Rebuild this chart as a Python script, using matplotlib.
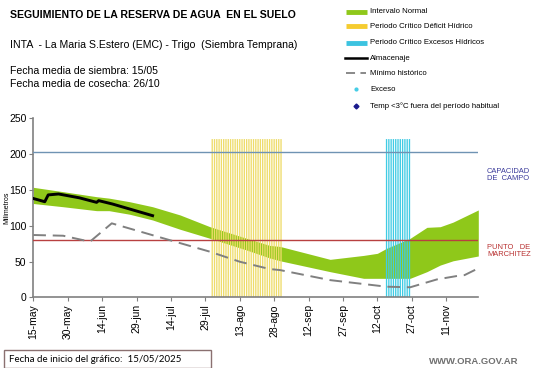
import pandas as pd
import matplotlib.pyplot as plt
from matplotlib.lines import Line2D
from matplotlib.patches import Rectangle

plt.rcParams["font.family"] = ["Liberation Sans", "DejaVu Sans"]

start = pd.Timestamp("2025-05-15")

# intervalo normal (green band): day offset, upper, lower
band_days = [0, 13, 27.6, 33, 42, 52, 64, 77, 93, 103, 107.6, 129.4, 144, 150, 154, 164.3, 171.6, 177.4, 183, 194]
band_upper = [153.6, 147.5, 140.5, 138.5, 133.5, 126.5, 115, 98.6, 82.4, 72.5, 71, 53, 58.5, 61.4, 68.4, 82.4, 97.7, 98.6, 105, 122]
band_lower = [131, 126.5, 121, 121, 116, 108, 95, 82.4, 66, 55, 51, 35.8, 26.5, 26.5, 26.5, 26.5, 35.8, 45, 51, 57.7]

# almacenaje (black line)
alm_days = [0, 5, 6.5, 11, 20, 27.6, 28.5, 34.5, 42, 52]
alm_vals = [138, 133.5, 143, 144.3, 139, 132.6, 135, 130.3, 123.3, 114]

# minimo historico (dashed)
min_days = [0, 13, 24.7, 34.2, 56.7, 77, 90, 103, 107.6, 129.4, 154, 164.3, 176, 184.6, 188, 194]
min_vals = [87, 86, 77.7, 103.3, 82.4, 63.7, 49.7, 39.5, 38, 24, 14.8, 14, 25, 29.7, 31, 40.5]

capacidad_campo = 202.5
punto_marchitez = 80.5
stripe_top = 221

deficit_days = list(range(78, 109))
exceso_days = list(range(154, 165))

tick_days = list(range(0, 181, 15))
tick_labels = ["15-may", "30-may", "14-jun", "29-jun", "14-jul", "29-jul", "13-ago",
               "28-ago", "12-sep", "27-sep", "12-oct", "27-oct", "11-nov"]


def to_dates(days):
    return start + pd.to_timedelta(days, unit="D")


fig = plt.figure(figsize=(5.41, 3.68), dpi=100)
ax = fig.add_axes([33.3 / 541, 1 - 297.3 / 368, 445 / 541, 179 / 368])

ax.fill_between(to_dates(band_days), band_lower, band_upper, color="#8fc81a", lw=0, zorder=1)
ax.vlines(to_dates(deficit_days), 0, stripe_top, color="#eedc6a", lw=0.95, zorder=2, snap=False)
ax.vlines(to_dates(exceso_days), 0, stripe_top, color="#40cbe4", lw=0.95, zorder=2, snap=False)
ax.axhline(capacidad_campo, color="#6f93b3", lw=1, zorder=3)
ax.axhline(punto_marchitez, color="#b84040", lw=1, zorder=3)
ax.plot(to_dates(min_days), min_vals, color="#808080", lw=1.4, dashes=(6.5, 3.5), zorder=4)
ax.plot(to_dates(alm_days), alm_vals, color="black", lw=2.1, zorder=5)

ax.set_xlim(start, start + pd.Timedelta(days=194))
ax.set_ylim(0, 250)
ax.set_yticks([0, 50, 100, 150, 200, 250])
ax.set_xticks(to_dates(tick_days))
ax.set_xticklabels(tick_labels, rotation=90)
ax.tick_params(labelsize=7.5, color="#808080", length=3, pad=2)
for s in ["top", "right"]:
    ax.spines[s].set_visible(False)
for s in ["left", "bottom"]:
    ax.spines[s].set_color("#808080")
    ax.spines[s].set_linewidth(1.2)
fig.text(7 / 541, 1 - 208 / 368, "Milimetros", rotation=90, fontsize=5, ha="center", va="center")

# header texts
fig.text(10 / 541, 1 - 15 / 368, "SEGUIMIENTO DE LA RESERVA DE AGUA  EN EL SUELO",
         fontsize=7.6, fontweight="bold", va="center")
fig.text(10 / 541, 1 - 45 / 368, "INTA  - La Maria S.Estero (EMC) - Trigo  (Siembra Temprana)",
         fontsize=7.6, va="center")
fig.text(10 / 541, 1 - 71 / 368, "Fecha media de siembra: 15/05", fontsize=7.6, va="center")
fig.text(10 / 541, 1 - 84 / 368, "Fecha media de cosecha: 26/10", fontsize=7.6, va="center")

# legend
rows_y = [11.7, 26, 42.7, 58.3, 73.3, 89.3, 106]
leg = [
    ("patch", "#8fc81a", "Intervalo Normal"),
    ("patch", "#f5cc30", "Periodo Crítico Déficit Hídrico"),
    ("patch", "#3cc3e0", "Periodo Crítico Excesos Hídricos"),
    ("line", "black", "Almacenaje"),
    ("dash", "#808080", "Mínimo histórico"),
    ("dot", "#45cde6", "Exceso"),
    ("diamond", "#1a1a8c", "Temp <3°C fuera del período habitual"),
]
for (kind, col, lab), yy in zip(leg, rows_y):
    y = 1 - yy / 368
    if kind == "patch":
        fig.add_artist(Line2D([346 / 541, 367 / 541], [y, y], color=col, lw=3.5, solid_capstyle="butt"))
    elif kind == "line":
        fig.add_artist(Line2D([345 / 541, 367 / 541], [y, y], color=col, lw=1.8))
    elif kind == "dash":
        fig.add_artist(Line2D([346 / 541, 366 / 541], [y, y], color=col, lw=1.3, dashes=(5, 3)))
    elif kind == "dot":
        fig.add_artist(Line2D([356 / 541], [y], color=col, marker="o", ms=2, lw=0))
    else:
        fig.add_artist(Line2D([356 / 541], [y], color=col, marker="D", ms=2.5, lw=0))
    fig.text(370 / 541, y, lab, fontsize=5.6, va="center")

fig.text(487 / 541, 1 - 175 / 368, "CAPACIDAD\nDE  CAMPO", fontsize=5.4, color="#3a3a9a",
         va="center", linespacing=1.1)
fig.text(487 / 541, 1 - 251 / 368, "PUNTO   DE\nMARCHITEZ", fontsize=5.4, color="#b83030",
         va="center", linespacing=1.1)

# footer
fig.add_artist(Rectangle((3.5 / 541, 1 - 368 / 368), 207 / 541, 18 / 368, transform=fig.transFigure,
                         fill=False, edgecolor="#8a7070", lw=1))
fig.text(9 / 541, 1 - 359 / 368, "Fecha de inicio del gráfico:  15/05/2025", fontsize=7,
         family=["Lato", "DejaVu Sans"], va="center")
fig.text(518 / 541, 1 - 362 / 368, "WWW.ORA.GOV.AR", fontsize=6.8, fontweight="bold",
         color="#707070", ha="right", va="center")

fig.savefig("out.png", dpi=100)
